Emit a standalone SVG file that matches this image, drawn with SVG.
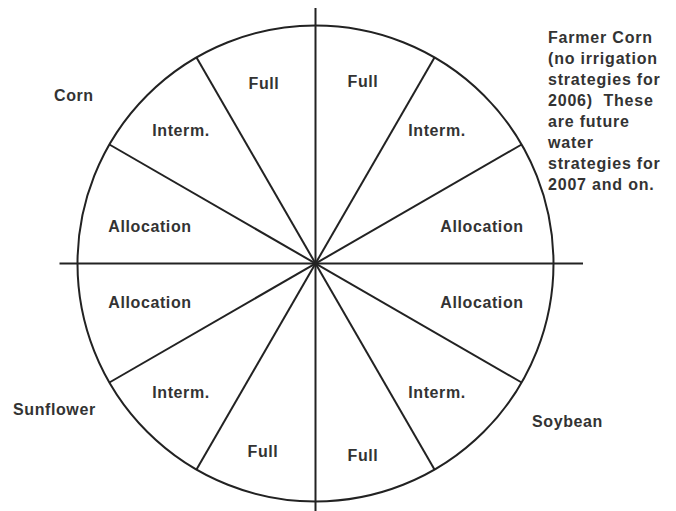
<svg xmlns="http://www.w3.org/2000/svg" width="676" height="511" viewBox="0 0 676 511">
<style>
.ln{stroke:#222;stroke-width:2;fill:none}
.lb{font-family:"Liberation Sans",Arial,sans-serif;font-weight:bold;font-size:16px;letter-spacing:0.6px;fill:#333;text-anchor:middle}
.sd{font-family:"Liberation Sans",Arial,sans-serif;font-weight:bold;font-size:16px;letter-spacing:0.6px;fill:#333}
.nt{font-family:"Liberation Sans",Arial,sans-serif;font-weight:bold;font-size:16px;letter-spacing:0.8px;fill:#333}
</style>
<rect width="676" height="511" fill="#fff"/>
<g id="connectors">
<circle class="ln" cx="315.5" cy="263.5" r="238"/>
<line class="ln" x1="315.5" y1="8" x2="315.5" y2="511"/>
<line class="ln" x1="59.5" y1="263.5" x2="583" y2="263.5"/>
<line class="ln" x1="521.6" y1="144.5" x2="109.4" y2="382.5"/>
<line class="ln" x1="434.5" y1="57.4" x2="196.5" y2="469.6"/>
<line class="ln" x1="196.5" y1="57.4" x2="434.5" y2="469.6"/>
<line class="ln" x1="109.4" y1="144.5" x2="521.6" y2="382.5"/>
</g>
<g id="seg-full-tl"><text class="lb" x="264" y="89">Full</text></g>
<g id="seg-full-tr"><text class="lb" x="363" y="87">Full</text></g>
<g id="seg-interm-tl"><text class="lb" x="181" y="136">Interm.</text></g>
<g id="seg-interm-tr"><text class="lb" x="437" y="136">Interm.</text></g>
<g id="seg-alloc-tl"><text class="lb" x="150" y="232">Allocation</text></g>
<g id="seg-alloc-tr"><text class="lb" x="482" y="232">Allocation</text></g>
<g id="seg-alloc-bl"><text class="lb" x="150" y="308">Allocation</text></g>
<g id="seg-alloc-br"><text class="lb" x="482" y="308">Allocation</text></g>
<g id="seg-interm-bl"><text class="lb" x="181" y="398">Interm.</text></g>
<g id="seg-interm-br"><text class="lb" x="437" y="398">Interm.</text></g>
<g id="seg-full-bl"><text class="lb" x="263" y="457">Full</text></g>
<g id="seg-full-br"><text class="lb" x="363" y="461">Full</text></g>
<g id="label-corn"><text class="sd" x="54" y="101">Corn</text></g>
<g id="label-sunflower"><text class="sd" x="13" y="415">Sunflower</text></g>
<g id="label-soybean"><text class="sd" x="532" y="427">Soybean</text></g>
<g id="label-farmer-corn">
<text class="nt" x="548" y="43">Farmer Corn</text>
<text class="nt" x="548" y="64">(no irrigation</text>
<text class="nt" x="548" y="85">strategies for</text>
<text class="nt" x="548" y="106" xml:space="preserve">2006)  These</text>
<text class="nt" x="548" y="127">are future</text>
<text class="nt" x="548" y="148">water</text>
<text class="nt" x="548" y="169">strategies for</text>
<text class="nt" x="548" y="190">2007 and on.</text>
</g>
</svg>
